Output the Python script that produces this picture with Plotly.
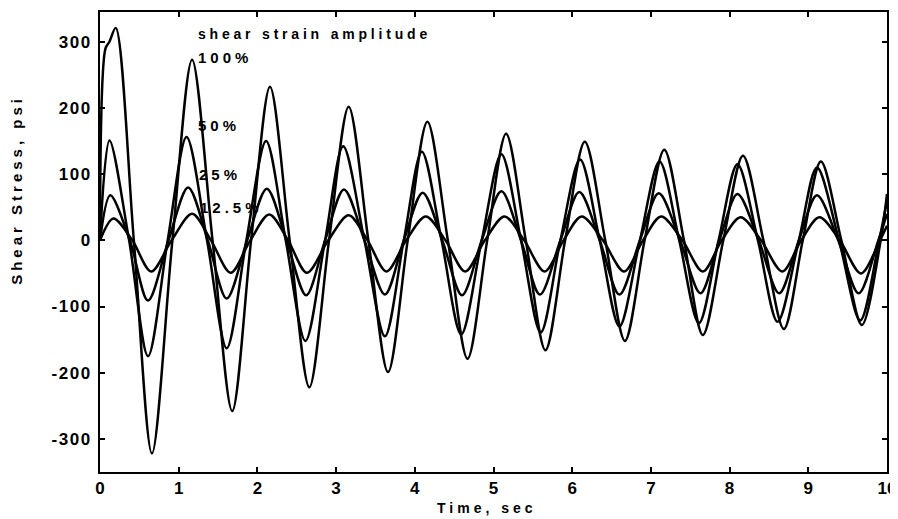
import plotly.graph_objects as go

# ---- data ----
t_100 = [0.00, 0.07, 0.12, 0.20, 0.43, 0.66, 0.92, 1.17, 1.43, 1.68, 1.92, 2.16, 2.41, 2.66, 2.91,
         3.16, 3.41, 3.66, 3.91, 4.16, 4.42, 4.67, 4.92, 5.16, 5.41, 5.66, 5.91, 6.16, 6.42, 6.67,
         6.92, 7.17, 7.42, 7.66, 7.92, 8.17, 8.43, 8.69, 8.93, 9.16, 9.42, 9.68, 9.92, 10.0]
s_100 = [0, 290, 300, 321, 0, -322, 0, 273, 0, -258, 0, 232, 0, -222, 0,
         202, 0, -199, 0, 179, 0, -179, 0, 161, 0, -166, 0, 149, 0, -152,
         0, 137, 0, -143, 0, 128, 0, -134, 0, 119, 0, -128, 0, 70]

t_50 = [0.00, 0.12, 0.37, 0.61, 0.86, 1.10, 1.36, 1.61, 1.86, 2.11, 2.36, 2.61, 2.86, 3.09, 3.36,
        3.62, 3.86, 4.09, 4.34, 4.59, 4.85, 5.10, 5.35, 5.60, 5.85, 6.10, 6.35, 6.60, 6.86, 7.11,
        7.36, 7.61, 7.86, 8.10, 8.36, 8.61, 8.88, 9.11, 9.39, 9.66, 9.90, 10.0]
s_50 = [0, 151, 0, -175, 0, 156, 0, -163, 0, 150, 0, -152, 0, 142, 0,
        -145, 0, 134, 0, -142, 0, 130, 0, -139, 0, 122, 0, -130, 0, 119,
        0, -125, 0, 115, 0, -123, 0, 110, 0, -121, 0, 60]

t_25 = [0.00, 0.13, 0.38, 0.61, 0.87, 1.12, 1.37, 1.61, 1.87, 2.12, 2.37, 2.62, 2.86, 3.10, 3.36,
        3.62, 3.86, 4.10, 4.35, 4.60, 4.85, 5.10, 5.35, 5.59, 5.85, 6.09, 6.35, 6.60, 6.86, 7.10,
        7.37, 7.63, 7.87, 8.10, 8.37, 8.63, 8.88, 9.11, 9.38, 9.64, 9.89, 10.0]
s_25 = [0, 68, 0, -91, 0, 80, 0, -88, 0, 78, 0, -83, 0, 77, 0,
        -82, 0, 72, 0, -83, 0, 74, 0, -82, 0, 73, 0, -82, 0, 71,
        0, -80, 0, 70, 0, -80, 0, 68, 0, -80, 0, 40]

t_12 = [0.00, 0.17, 0.41, 0.65, 0.91, 1.17, 1.41, 1.66, 1.91, 2.15, 2.39, 2.63, 2.90, 3.16, 3.40,
        3.64, 3.89, 4.14, 4.39, 4.64, 4.89, 5.14, 5.39, 5.65, 5.89, 6.12, 6.39, 6.66, 6.90, 7.13,
        7.40, 7.66, 7.90, 8.14, 8.40, 8.67, 8.91, 9.14, 9.40, 9.67, 9.91, 10.0]
s_12 = [0, 33, 0, -47, 0, 40, 0, -49, 0, 39, 0, -49, 0, 38, 0,
        -47, 0, 36, 0, -47, 0, 36, 0, -47, 0, 36, 0, -47, 0, 36,
        0, -47, 0, 35, 0, -47, 0, 35, 0, -50, 0, 22]

series_names = ["100%", "50%", "25%", "12.5%"]
x_ticks = [0, 1, 2, 3, 4, 5, 6, 7, 8, 9, 10]
y_ticks = [-300, -200, -100, 0, 100, 200, 300]
legend_title = "shear strain amplitude"
label_pos = {"100%": (1.22, 276), "50%": (1.22, 173), "25%": (1.23, 99), "12.5%": (1.25, 50)}

FONT = "Liberation Sans, Arial, Helvetica, sans-serif"

fig = go.Figure()
for name, t, s in zip(series_names, [t_100, t_50, t_25, t_12], [s_100, s_50, s_25, s_12]):
    fig.add_trace(go.Scatter(x=t, y=s, mode="lines", name=name,
                             line=dict(color="black", width=2.5, shape="spline", smoothing=0.9)))

def spaced(txt, sp):
    return f'<span style="letter-spacing:{sp}px">{txt}</span>'

annotations = [
    dict(x=1.22, y=312, xref="x", yref="y", text=spaced(legend_title, 3.8), showarrow=False,
         xanchor="left", yanchor="middle", font=dict(family=FONT, size=14, color="black", weight="bold")),
]
for name in series_names:
    lx, ly = label_pos[name]
    annotations.append(dict(x=lx, y=ly, xref="x", yref="y", text=spaced(name, 4), showarrow=False,
                            xanchor="left", yanchor="middle",
                            font=dict(family=FONT, size=15, color="black", weight="bold")))
annotations.append(dict(x=-0.107, y=0.613, xref="paper", yref="paper", text=spaced("Shear Stress, psi", 4),
                        showarrow=False, textangle=-90, xanchor="center", yanchor="middle",
                        font=dict(family=FONT, size=15, color="black", weight="bold")))
annotations.append(dict(x=0.492, y=-0.078, xref="paper", yref="paper", text=spaced("Time, sec", 4),
                        showarrow=False, xanchor="center", yanchor="middle",
                        font=dict(family=FONT, size=14, color="black", weight="bold")))

axis_common = dict(showline=True, linecolor="black", linewidth=2, mirror="ticks", ticks="inside",
                   ticklen=5, tickwidth=1.5, tickcolor="black", showgrid=False, zeroline=False,
                   ticklabeloverflow="allow", automargin=False,
                   tickfont=dict(family=FONT, size=17, color="black", weight="bold"))

# page body has an 8px default margin, so the figure is sized to end at the window edge
fig.update_layout(
    width=890, height=511,
    margin=dict(l=92, r=11, t=4, b=47),
    plot_bgcolor="white", paper_bgcolor="white",
    showlegend=False,
    font=dict(family=FONT, color="black"),
    xaxis=dict(range=[0, 10], tickvals=x_ticks, ticktext=[str(v) for v in x_ticks], **axis_common),
    yaxis=dict(range=[-350, 345], tickvals=y_ticks, ticklabelstandoff=3,
               ticktext=[spaced(str(v), 1.5) for v in y_ticks], **axis_common),
    annotations=annotations,
)

fig.write_html("out.html")
